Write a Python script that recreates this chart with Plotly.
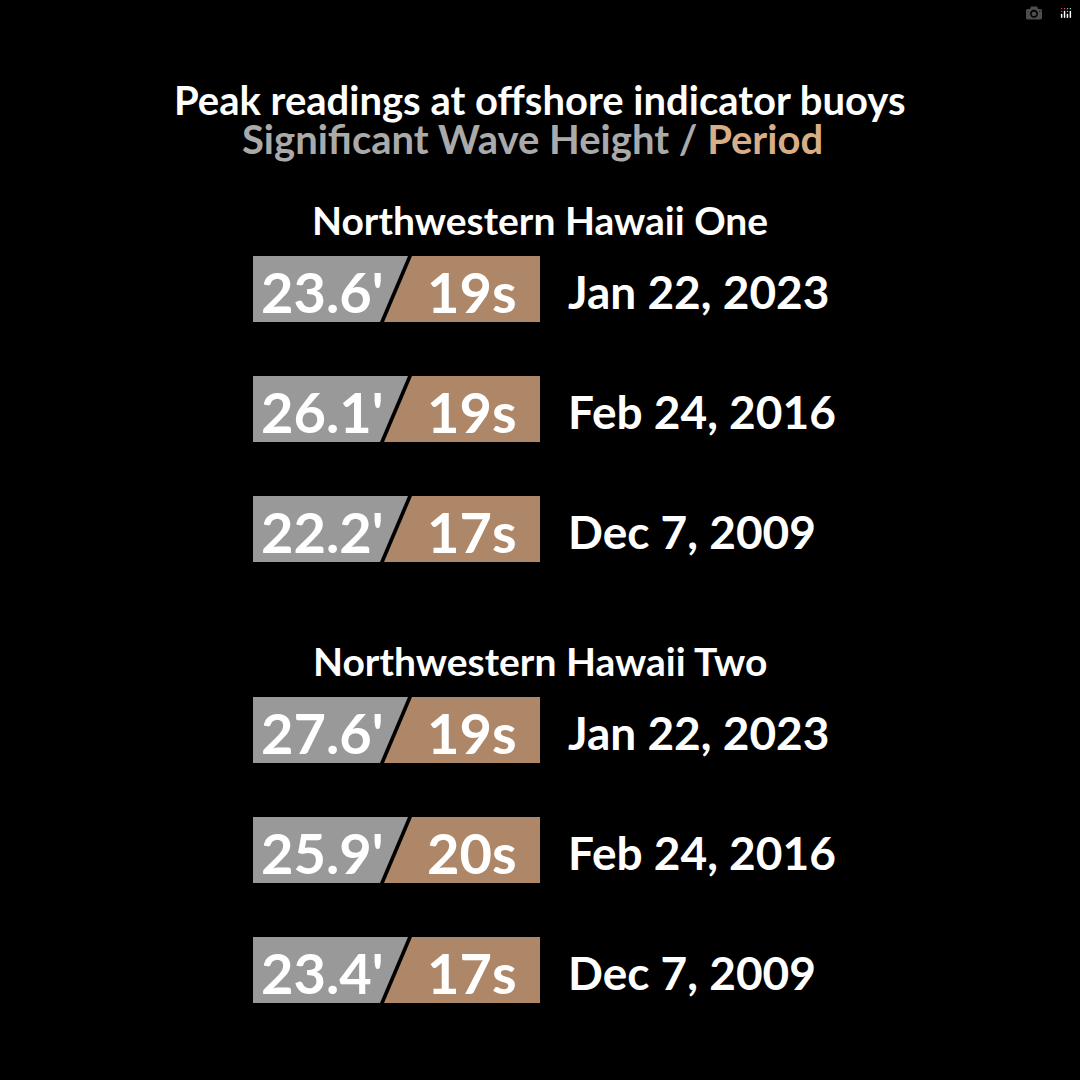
import plotly.graph_objects as go

groups = ["Northwestern Hawaii One", "Northwestern Hawaii Two"]
heights = [["23.6'", "26.1'", "22.2'"], ["27.6'", "25.9'", "23.4'"]]
periods = [["19s", "19s", "17s"], ["19s", "20s", "17s"]]
dates = [["Jan 22, 2023", "Feb 24, 2016", "Dec 7, 2009"],
         ["Jan 22, 2023", "Feb 24, 2016", "Dec 7, 2009"]]

GRAY = "#999999"
BROWN = "#AD8767"
FONT = "Lato"

fig = go.Figure()
ann = []
x0, x1, x2 = 253, 540, 410
slant = 28
half = 33
for g, name in enumerate(groups):
    gy = 220 + g * 441
    ann.append(dict(x=540, y=gy, text="<b>" + name + "</b>", showarrow=False,
                    font=dict(size=39, color="white", family=FONT), xanchor="center", yanchor="middle"))
    for i in range(3):
        cy = gy + 69 + i * 120
        top, bot = cy - half, cy + half
        fig.add_trace(go.Scatter(x=[x0, x2 - 2, x2 - 2 - slant, x0, x0], y=[top, top, bot, bot, top],
                                 fill="toself", fillcolor=GRAY, line=dict(width=0), mode="lines",
                                 hoverinfo="skip", showlegend=False))
        fig.add_trace(go.Scatter(x=[x2 + 2, x1, x1, x2 + 2 - slant, x2 + 2], y=[top, top, bot, bot, top],
                                 fill="toself", fillcolor=BROWN, line=dict(width=0), mode="lines",
                                 hoverinfo="skip", showlegend=False))
        ann.append(dict(x=386, y=cy + 2, text="<b>" + heights[g][i] + "</b>", showarrow=False, xanchor="right",
                        yanchor="middle", font=dict(size=56, color="white", family=FONT)))
        ann.append(dict(x=519, y=cy + 2, text="<b>" + periods[g][i] + "</b>", showarrow=False, xanchor="right",
                        yanchor="middle", font=dict(size=56, color="white", family=FONT)))
        ann.append(dict(x=566, y=cy + 2, text="<b>" + dates[g][i] + "</b>", showarrow=False, xanchor="left",
                        yanchor="middle", font=dict(size=46, color="white", family=FONT)))

ann.append(dict(x=540, y=100, text="<b>Peak readings at offshore indicator buoys</b>", showarrow=False,
                font=dict(size=40, color="white", family=FONT), xanchor="center", yanchor="middle"))
ann.append(dict(x=532, y=139,
                text="<b><span style='color:#AAAAAA'>Significant Wave Height</span> <span style='color:#AAAAAA'>/</span> <span style='color:#D7AE87'>Period</span></b>",
                showarrow=False, font=dict(size=40, family=FONT), xanchor="center", yanchor="middle"))

fig.update_layout(width=1080, height=1080, margin=dict(l=0, r=0, t=0, b=0),
                  paper_bgcolor="black", plot_bgcolor="black", annotations=ann,
                  xaxis=dict(range=[0, 1080], visible=False, fixedrange=True),
                  yaxis=dict(range=[1080, 0], visible=False, fixedrange=True))
fig.write_html("out.html",
               post_script="document.body.style.margin='0';document.body.style.background='black';")
